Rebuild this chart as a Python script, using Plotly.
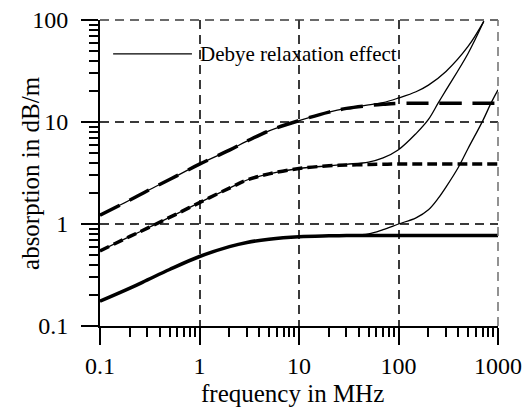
import plotly.graph_objects as go

# ---- data ----
freq_thick = [0.1, 0.2, 0.3, 0.5, 1, 2, 3, 5, 10, 20, 30, 50, 70, 100, 200, 500, 1000]
absorb_low = [0.175, 0.235, 0.283, 0.358, 0.48, 0.60, 0.66, 0.71, 0.75, 0.765, 0.77, 0.77, 0.77, 0.77, 0.77, 0.77, 0.77]
absorb_mid = [0.545, 0.755, 0.91, 1.16, 1.62, 2.25, 2.7, 3.1, 3.5, 3.72, 3.78, 3.83, 3.85, 3.87, 3.87, 3.87, 3.87]
absorb_high = [1.22, 1.72, 2.12, 2.73, 3.86, 5.3, 6.5, 8.2, 10.3, 12.5, 13.6, 14.5, 14.9, 15.2, 15.3, 15.3, 15.3]

freq_debye_low = [0.1, 0.2, 0.3, 0.5, 1, 2, 3, 5, 10, 20, 30, 50, 70, 100, 150, 200, 250, 300, 400, 500, 700, 850, 1000]
debye_low = [0.175, 0.235, 0.283, 0.358, 0.48, 0.60, 0.66, 0.71, 0.75, 0.765, 0.775, 0.80, 0.88, 1.0, 1.15, 1.38, 1.78, 2.3, 3.6, 5.5, 10.2, 15.3, 20.7]

freq_debye_mid = [0.1, 0.2, 0.3, 0.5, 1, 2, 3, 5, 10, 20, 30, 50, 70, 100, 150, 200, 250, 300, 500, 720]
debye_mid = [0.545, 0.755, 0.91, 1.16, 1.62, 2.25, 2.7, 3.1, 3.5, 3.72, 3.85, 4.05, 4.45, 5.35, 7.7, 10.6, 15.3, 20.5, 47.0, 97.0]

freq_debye_high = [0.1, 0.2, 0.3, 0.5, 1, 2, 3, 5, 10, 20, 30, 50, 70, 100, 150, 200, 300, 500, 720]
debye_high = [1.22, 1.72, 2.12, 2.73, 3.86, 5.3, 6.5, 8.2, 10.3, 12.5, 13.6, 14.7, 15.5, 17.2, 19.8, 23.0, 31.3, 55.0, 97.0]

x_tickvals = [0.1, 1, 10, 100, 1000]
x_ticktext = ["0.1", "1", "10", "100", "1000"]
y_tickvals = [0.1, 1, 10, 100]
y_ticktext = ["0.1", "1", "10", "100"]

x_title = "frequency in MHz"
y_title = "absorption in dB/m"
legend_label = "Debye relaxation effect"

FONT = "Liberation Serif, Times New Roman, serif"
GRID = "#3a3a3a"
GRID_DASH = "9px,6px"

fig = go.Figure()

# thick curves
fig.add_trace(go.Scatter(x=freq_thick, y=absorb_low, mode="lines",
                         line=dict(color="black", width=3.5, shape="spline"), showlegend=False))
fig.add_trace(go.Scatter(x=freq_thick, y=absorb_mid, mode="lines",
                         line=dict(color="black", width=3.5, shape="spline", dash="10px,5px"), showlegend=False))
fig.add_trace(go.Scatter(x=freq_thick, y=absorb_high, mode="lines",
                         line=dict(color="black", width=3.5, shape="spline", dash="22px,11px"), showlegend=False))

# thin Debye curves
for fx, fy in [(freq_debye_low, debye_low), (freq_debye_mid, debye_mid), (freq_debye_high, debye_high)]:
    fig.add_trace(go.Scatter(x=fx, y=fy, mode="lines",
                             line=dict(color="black", width=1.3, shape="spline"), showlegend=False))

axis_common = dict(
    type="log", automargin=False,
    showline=True, linecolor="black", linewidth=2,
    ticks="outside", ticklen=17, tickwidth=2, tickcolor="black",
    showgrid=True, gridcolor=GRID, gridwidth=1.6, griddash=GRID_DASH,
    zeroline=False,
    tickfont=dict(family=FONT, size=24, color="black"),
    minor=dict(ticks="outside", ticklen=9, tickwidth=1.5, tickcolor="black", dtick="D1", showgrid=False),
)

fig.update_xaxes(range=[-1, 3], tickvals=x_tickvals, ticktext=x_ticktext, **axis_common)
fig.update_yaxes(range=[-1, 2], tickvals=y_tickvals, ticktext=y_ticktext, ticklabelstandoff=8, **axis_common)

# axis titles
fig.add_annotation(text=x_title, xref="paper", yref="paper", x=0.484, y=-0.222,
                   xanchor="center", yanchor="middle", showarrow=False,
                   font=dict(family=FONT, size=25, color="black"))
fig.add_annotation(text=y_title, xref="paper", yref="paper", x=-0.176, y=0.5, textangle=-90,
                   xanchor="center", yanchor="middle", showarrow=False,
                   font=dict(family=FONT, size=25, color="black"))

# dashed frame on top and right (continuation of grid)
fig.add_shape(type="line", xref="paper", yref="paper", x0=0, x1=1, y0=1, y1=1,
              line=dict(color=GRID, width=1.6, dash=GRID_DASH))
fig.add_shape(type="line", xref="paper", yref="paper", x0=1, x1=1, y0=0, y1=1,
              line=dict(color="#777777", width=1.6, dash=GRID_DASH))

# legend sample line and text
fig.add_shape(type="line", xref="paper", yref="paper", x0=0.033, x1=0.231, y0=0.889, y1=0.889,
              line=dict(color="black", width=1.3))
fig.add_annotation(text=legend_label, xref="paper", yref="paper", x=0.245, y=0.889,
                   xanchor="left", yanchor="middle", showarrow=False,
                   font=dict(family=FONT, size=21, color="black"))

fig.update_layout(
    width=525, height=408,
    margin=dict(l=100, r=27, t=20, b=82),
    plot_bgcolor="white", paper_bgcolor="white",
    showlegend=False,
)

fig.write_html("out.html")
